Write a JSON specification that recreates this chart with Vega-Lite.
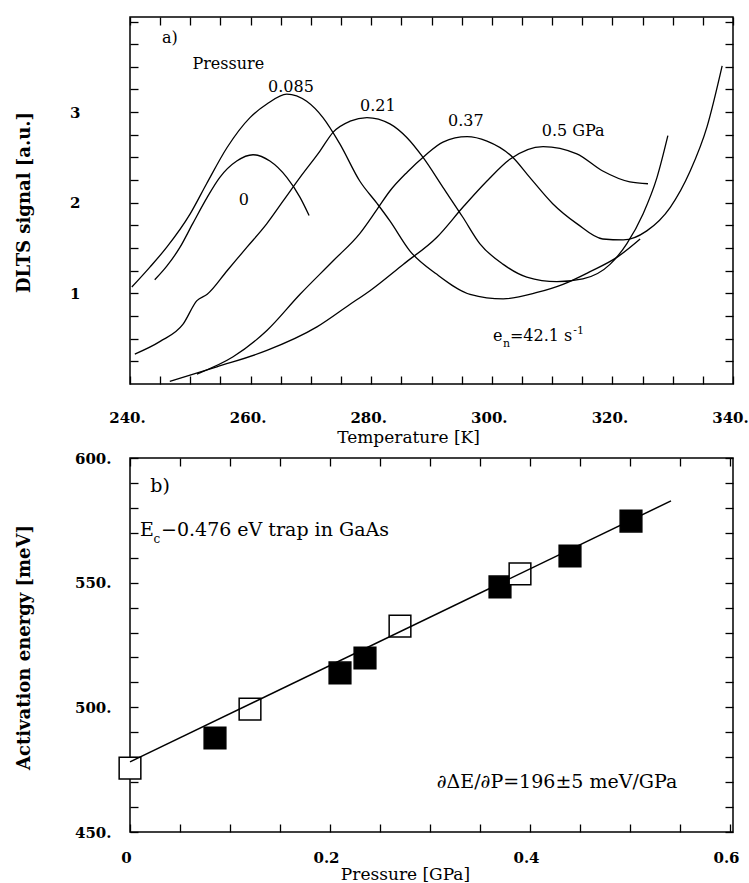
{
  "$schema": "https://vega.github.io/schema/vega-lite/v6.json",
  "background": "white",
  "padding": {"left": 14, "top": 13, "right": 10, "bottom": 0},
  "bounds": "flush",
  "spacing": 74,
  "config": {
    "view": {"stroke": "black", "strokeWidth": 1.5},
    "axis": {
      "domain": false, "grid": false, "tickColor": "black", "tickWidth": 1.3,
      "labelColor": "black", "titleColor": "black",
      "labelFont": "DejaVu Serif", "titleFont": "DejaVu Serif",
      "labelFontSize": 15, "labelFontWeight": "bold",
      "titleFontSize": 17, "titleFontWeight": "normal",
      "labelFlush": false, "labelOverlap": false
    },
    "text": {"font": "DejaVu Serif", "color": "black"}
  },
  "datasets": {
    "curves": [
      {"curve": "0", "T": 244.1, "S": 1.15}, {"curve": "0", "T": 246.1, "S": 1.30}, {"curve": "0", "T": 248.3, "S": 1.51},
      {"curve": "0", "T": 250.4, "S": 1.77}, {"curve": "0", "T": 252.8, "S": 2.06}, {"curve": "0", "T": 254.9, "S": 2.28},
      {"curve": "0", "T": 257.7, "S": 2.46}, {"curve": "0", "T": 260.4, "S": 2.53}, {"curve": "0", "T": 263.2, "S": 2.46},
      {"curve": "0", "T": 266.0, "S": 2.28}, {"curve": "0", "T": 268.2, "S": 2.06}, {"curve": "0", "T": 269.7, "S": 1.86},

      {"curve": "0.085", "T": 240.3, "S": 1.07}, {"curve": "0.085", "T": 243.3, "S": 1.29}, {"curve": "0.085", "T": 246.1, "S": 1.51},
      {"curve": "0.085", "T": 250.0, "S": 1.88}, {"curve": "0.085", "T": 252.7, "S": 2.21}, {"curve": "0.085", "T": 256.1, "S": 2.61},
      {"curve": "0.085", "T": 259.9, "S": 2.94}, {"curve": "0.085", "T": 262.7, "S": 3.09}, {"curve": "0.085", "T": 266.0, "S": 3.20},
      {"curve": "0.085", "T": 269.3, "S": 3.12}, {"curve": "0.085", "T": 272.0, "S": 2.94}, {"curve": "0.085", "T": 274.8, "S": 2.65},
      {"curve": "0.085", "T": 278.1, "S": 2.24}, {"curve": "0.085", "T": 281.0, "S": 1.99}, {"curve": "0.085", "T": 283.1, "S": 1.80},
      {"curve": "0.085", "T": 286.4, "S": 1.47}, {"curve": "0.085", "T": 290.9, "S": 1.21}, {"curve": "0.085", "T": 296.4, "S": 0.99},
      {"curve": "0.085", "T": 301.9, "S": 0.94}, {"curve": "0.085", "T": 307.5, "S": 1.01}, {"curve": "0.085", "T": 311.8, "S": 1.10},
      {"curve": "0.085", "T": 316.3, "S": 1.24}, {"curve": "0.085", "T": 320.8, "S": 1.40}, {"curve": "0.085", "T": 324.6, "S": 1.60},

      {"curve": "0.21", "T": 240.8, "S": 0.33}, {"curve": "0.21", "T": 245.0, "S": 0.47}, {"curve": "0.21", "T": 248.8, "S": 0.66},
      {"curve": "0.21", "T": 251.1, "S": 0.92}, {"curve": "0.21", "T": 252.8, "S": 0.99}, {"curve": "0.21", "T": 256.1, "S": 1.25},
      {"curve": "0.21", "T": 259.4, "S": 1.51}, {"curve": "0.21", "T": 262.7, "S": 1.77}, {"curve": "0.21", "T": 265.4, "S": 2.02},
      {"curve": "0.21", "T": 268.2, "S": 2.28}, {"curve": "0.21", "T": 271.5, "S": 2.57}, {"curve": "0.21", "T": 273.7, "S": 2.78},
      {"curve": "0.21", "T": 276.5, "S": 2.90}, {"curve": "0.21", "T": 279.3, "S": 2.94}, {"curve": "0.21", "T": 283.1, "S": 2.87},
      {"curve": "0.21", "T": 285.9, "S": 2.72}, {"curve": "0.21", "T": 288.6, "S": 2.50}, {"curve": "0.21", "T": 291.9, "S": 2.17},
      {"curve": "0.21", "T": 295.2, "S": 1.84}, {"curve": "0.21", "T": 298.0, "S": 1.55}, {"curve": "0.21", "T": 301.9, "S": 1.32},
      {"curve": "0.21", "T": 305.8, "S": 1.18}, {"curve": "0.21", "T": 310.8, "S": 1.13}, {"curve": "0.21", "T": 315.1, "S": 1.16},
      {"curve": "0.21", "T": 319.6, "S": 1.32}, {"curve": "0.21", "T": 322.4, "S": 1.55}, {"curve": "0.21", "T": 325.1, "S": 1.88},
      {"curve": "0.21", "T": 327.4, "S": 2.28}, {"curve": "0.21", "T": 329.2, "S": 2.74},

      {"curve": "0.37", "T": 251.1, "S": 0.11}, {"curve": "0.37", "T": 257.1, "S": 0.30}, {"curve": "0.37", "T": 262.7, "S": 0.59},
      {"curve": "0.37", "T": 268.2, "S": 0.99}, {"curve": "0.37", "T": 273.7, "S": 1.36}, {"curve": "0.37", "T": 278.1, "S": 1.66},
      {"curve": "0.37", "T": 281.0, "S": 1.93}, {"curve": "0.37", "T": 283.1, "S": 2.13}, {"curve": "0.37", "T": 286.0, "S": 2.34},
      {"curve": "0.37", "T": 288.9, "S": 2.52}, {"curve": "0.37", "T": 291.9, "S": 2.67}, {"curve": "0.37", "T": 295.9, "S": 2.73},
      {"curve": "0.37", "T": 299.2, "S": 2.68}, {"curve": "0.37", "T": 303.5, "S": 2.50}, {"curve": "0.37", "T": 306.3, "S": 2.28},
      {"curve": "0.37", "T": 310.1, "S": 1.99}, {"curve": "0.37", "T": 314.1, "S": 1.77}, {"curve": "0.37", "T": 318.4, "S": 1.60},
      {"curve": "0.37", "T": 321.8, "S": 1.59}, {"curve": "0.37", "T": 325.7, "S": 1.69}, {"curve": "0.37", "T": 329.6, "S": 1.95},
      {"curve": "0.37", "T": 332.9, "S": 2.35}, {"curve": "0.37", "T": 335.7, "S": 2.84}, {"curve": "0.37", "T": 338.2, "S": 3.51},

      {"curve": "0.5", "T": 246.6, "S": 0.03}, {"curve": "0.5", "T": 254.4, "S": 0.19}, {"curve": "0.5", "T": 262.7, "S": 0.37},
      {"curve": "0.5", "T": 271.0, "S": 0.63}, {"curve": "0.5", "T": 276.5, "S": 0.88}, {"curve": "0.5", "T": 279.8, "S": 1.03},
      {"curve": "0.5", "T": 285.3, "S": 1.32}, {"curve": "0.5", "T": 290.9, "S": 1.62}, {"curve": "0.5", "T": 295.2, "S": 1.95},
      {"curve": "0.5", "T": 299.2, "S": 2.24}, {"curve": "0.5", "T": 303.0, "S": 2.48}, {"curve": "0.5", "T": 308.5, "S": 2.62},
      {"curve": "0.5", "T": 314.1, "S": 2.54}, {"curve": "0.5", "T": 318.4, "S": 2.35}, {"curve": "0.5", "T": 322.9, "S": 2.23},
      {"curve": "0.5", "T": 325.9, "S": 2.21}
    ],
    "topLabels": [
      {"label": "a)", "T": 246.6, "S": 3.82},
      {"label": "Pressure", "T": 256.3, "S": 3.53},
      {"label": "0.085", "T": 266.7, "S": 3.28},
      {"label": "0.21", "T": 281.1, "S": 3.07},
      {"label": "0.37", "T": 295.7, "S": 2.90},
      {"label": "0.5 GPa", "T": 313.5, "S": 2.79},
      {"label": "0", "T": 258.9, "S": 2.03}
    ],
    "topLabelsL": [
      {"label": "e", "T": 300.2, "S": 0.475},
      {"label": "=42.1 s", "T": 303.0, "S": 0.475}
    ],
    "topLabelsS": [
      {"label": "n", "T": 301.85, "S": 0.408},
      {"label": "-1", "T": 313.5, "S": 0.552}
    ],
    "points": [
      {"P": 0.0, "E": 475.6, "kind": "open"},
      {"P": 0.085, "E": 487.7, "kind": "filled"},
      {"P": 0.12, "E": 499.3, "kind": "open"},
      {"P": 0.21, "E": 513.8, "kind": "filled"},
      {"P": 0.235, "E": 519.8, "kind": "filled"},
      {"P": 0.27, "E": 532.6, "kind": "open"},
      {"P": 0.37, "E": 548.3, "kind": "filled"},
      {"P": 0.39, "E": 553.5, "kind": "open"},
      {"P": 0.44, "E": 560.7, "kind": "filled"},
      {"P": 0.501, "E": 574.7, "kind": "filled"}
    ],
    "fit": [
      {"P": 0.0, "E": 478.1},
      {"P": 0.541, "E": 582.8}
    ],
    "botLabelsC": [
      {"label": "b)", "P": 0.03, "E": 588.8},
      {"label": "∂ΔE/∂P=196±5 meV/GPa", "P": 0.427, "E": 470.0}
    ],
    "botLabelsL": [
      {"label": "E", "P": 0.010, "E": 568.7},
      {"label": "−0.476 eV trap in GaAs", "P": 0.031, "E": 568.7}
    ],
    "botLabelsS": [
      {"label": "c", "P": 0.0235, "E": 566.0}
    ]
  },
  "vconcat": [
    {
      "width": 603,
      "height": 367,
      "layer": [
        {
          "data": {"name": "curves"},
          "mark": {"type": "line", "color": "black", "strokeWidth": 1.3, "interpolate": "monotone"},
          "encoding": {
            "x": {
              "field": "T", "type": "quantitative",
              "scale": {"domain": [240, 340], "nice": false, "zero": false},
              "axis": {
                "orient": "bottom",
                "values": [240,245,250,255,260,265,270,275,280,285,290,295,300,305,310,315,320,325,330,335,340],
                "labelExpr": "datum.value % 20 === 0 ? datum.value + '.' : ''",
                "tickSize": -8, "labelPadding": 34, "labelOffset": -3,
                "title": "Temperature [K]", "titleX": 278, "titleY": 45
              }
            },
            "y": {
              "field": "S", "type": "quantitative",
              "scale": {"domain": [0, 4.05], "nice": false, "zero": false},
              "axis": {
                "orient": "left",
                "values": [0.25,0.5,0.75,1,1.25,1.5,1.75,2,2.25,2.5,2.75,3,3.25,3.5,3.75,4],
                "labelExpr": "datum.value === 1 || datum.value === 2 || datum.value === 3 ? datum.value : ''",
                "tickSize": -8, "labelPadding": 58,
                "title": "DLTS signal [a.u.]", "titleFontWeight": "bold", "titleFontSize": 18,
                "titleX": -97, "titleY": 185
              }
            },
            "detail": {"field": "curve"}
          }
        },
        {
          "data": {"name": "topLabels"},
          "mark": {"type": "text", "fontSize": 16, "align": "center", "baseline": "middle"},
          "encoding": {
            "x": {
              "field": "T", "type": "quantitative",
              "axis": {
                "orient": "top",
                "values": [240,245,250,255,260,265,270,275,280,285,290,295,300,305,310,315,320,325,330,335,340],
                "labels": false, "tickSize": -8, "title": null
              }
            },
            "y": {
              "field": "S", "type": "quantitative",
              "axis": {
                "orient": "right",
                "values": [0.25,0.5,0.75,1,1.25,1.5,1.75,2,2.25,2.5,2.75,3,3.25,3.5,3.75,4],
                "labels": false, "tickSize": -8, "title": null
              }
            },
            "text": {"field": "label"}
          }
        },
        {
          "data": {"name": "topLabelsL"},
          "mark": {"type": "text", "fontSize": 16, "align": "left", "baseline": "alphabetic"},
          "encoding": {
            "x": {"field": "T", "type": "quantitative", "axis": null},
            "y": {"field": "S", "type": "quantitative", "axis": null},
            "text": {"field": "label"}
          }
        },
        {
          "data": {"name": "topLabelsS"},
          "mark": {"type": "text", "fontSize": 11, "align": "left", "baseline": "alphabetic"},
          "encoding": {
            "x": {"field": "T", "type": "quantitative", "axis": null},
            "y": {"field": "S", "type": "quantitative", "axis": null},
            "text": {"field": "label"}
          }
        }
      ],
      "resolve": {"axis": {"x": "independent", "y": "independent"}}
    },
    {
      "width": 603,
      "height": 374,
      "layer": [
        {
          "data": {"name": "points"},
          "mark": {"type": "point", "shape": "square", "size": 470, "stroke": "black", "strokeWidth": 1.5, "filled": false, "opacity": 1},
          "encoding": {
            "x": {
              "field": "P", "type": "quantitative",
              "scale": {"domain": [0, 0.603], "nice": false, "zero": false},
              "axis": {
                "orient": "bottom",
                "values": [0,0.05,0.1,0.15,0.2,0.25,0.3,0.35,0.4,0.45,0.5,0.55,0.6],
                "labelExpr": "datum.value === 0 ? '0' : (datum.value === 0.2 || datum.value === 0.4 || datum.value === 0.6 ? datum.value + '' : '')",
                "tickSize": -8, "labelPadding": 26, "labelOffset": -4,
                "title": "Pressure [GPa]", "titleX": 275, "titleY": 34
              }
            },
            "y": {
              "field": "E", "type": "quantitative",
              "scale": {"domain": [450, 600], "nice": false, "zero": false},
              "axis": {
                "orient": "left",
                "values": [450,460,470,480,490,500,510,520,530,540,550,560,570,580,590,600],
                "labelExpr": "datum.value % 50 === 0 ? datum.value + '.' : ''",
                "tickSize": -8, "labelPadding": 27,
                "title": "Activation energy [meV]", "titleFontWeight": "bold", "titleFontSize": 18,
                "titleX": -97, "titleY": 189
              }
            },
            "fill": {
              "field": "kind", "type": "nominal",
              "scale": {"domain": ["filled", "open"], "range": ["black", "white"]},
              "legend": null
            }
          }
        },
        {
          "data": {"name": "fit"},
          "mark": {"type": "line", "color": "black", "strokeWidth": 1.5},
          "encoding": {
            "x": {
              "field": "P", "type": "quantitative",
              "axis": {
                "orient": "top",
                "values": [0,0.05,0.1,0.15,0.2,0.25,0.3,0.35,0.4,0.45,0.5,0.55,0.6],
                "labels": false, "tickSize": -8, "title": null
              }
            },
            "y": {
              "field": "E", "type": "quantitative",
              "axis": {
                "orient": "right",
                "values": [450,460,470,480,490,500,510,520,530,540,550,560,570,580,590,600],
                "labels": false, "tickSize": -8, "title": null
              }
            }
          }
        },
        {
          "data": {"name": "botLabelsC"},
          "mark": {"type": "text", "fontSize": 19, "align": "center", "baseline": "middle"},
          "encoding": {
            "x": {"field": "P", "type": "quantitative", "axis": null},
            "y": {"field": "E", "type": "quantitative", "axis": null},
            "text": {"field": "label"}
          }
        },
        {
          "data": {"name": "botLabelsL"},
          "mark": {"type": "text", "fontSize": 19, "align": "left", "baseline": "alphabetic"},
          "encoding": {
            "x": {"field": "P", "type": "quantitative", "axis": null},
            "y": {"field": "E", "type": "quantitative", "axis": null},
            "text": {"field": "label"}
          }
        },
        {
          "data": {"name": "botLabelsS"},
          "mark": {"type": "text", "fontSize": 12, "align": "left", "baseline": "alphabetic"},
          "encoding": {
            "x": {"field": "P", "type": "quantitative", "axis": null},
            "y": {"field": "E", "type": "quantitative", "axis": null},
            "text": {"field": "label"}
          }
        }
      ],
      "resolve": {"axis": {"x": "independent", "y": "independent"}}
    }
  ]
}
